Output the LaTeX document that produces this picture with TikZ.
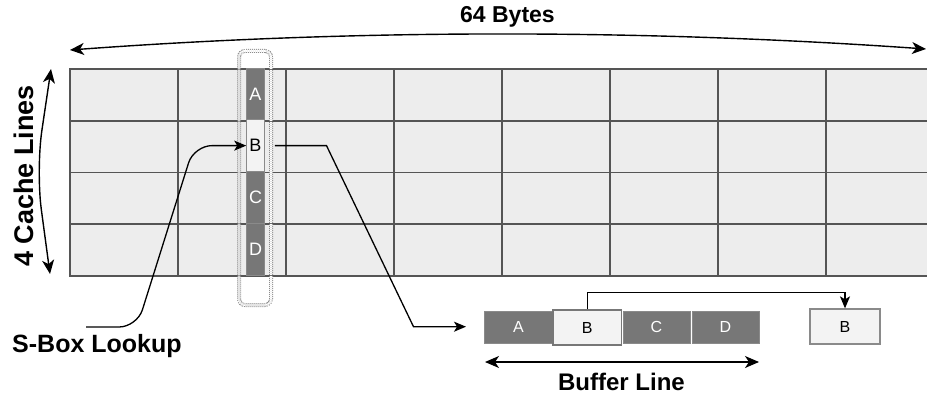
\documentclass[tikz,border=0pt]{standalone}
\usepackage{fontspec}
\setmainfont{Liberation Sans}
\usetikzlibrary{arrows.meta}
\definecolor{gridline}{HTML}{555555}
\definecolor{cellfill}{HTML}{EDEDED}
\definecolor{darkcell}{HTML}{777777}
\definecolor{lightcell}{HTML}{F3F3F3}
\definecolor{dotgray}{HTML}{8C8C8C}
\definecolor{boxedge}{HTML}{8A8A8A}
\begin{document}
\begin{tikzpicture}[x=1pt,y=-1pt,
  cell/.style={draw=gridline, fill=cellfill, line width=1.8pt, minimum width=108pt, minimum height=51.75pt, inner sep=0pt, anchor=north west},
  sdark/.style={fill=darkcell, draw=boxedge, line width=0.6pt, minimum width=18pt, minimum height=51.75pt, inner sep=0pt, text=white, font=\fontsize{18}{18}\selectfont},
  slight/.style={sdark, fill=lightcell, text=black},
  bdark/.style={fill=darkcell, draw=boxedge, line width=0.6pt, minimum height=32pt, inner sep=0pt, text=white, font=\fontsize{16}{16}\selectfont},
  blight/.style={bdark, fill=lightcell, draw=gridline!80, line width=1.3pt, text=black},
  biglabel/.style={font=\fontsize{#1}{#1}\selectfont\bfseries, inner sep=0pt},
  conn/.style={line width=1.3pt, -{Stealth[length=12pt,width=10pt,inset=3pt]}},
  dim/.style={line width=1.4pt, {Stealth[length=14pt,width=12pt,inset=4pt]}-{Stealth[length=14pt,width=12pt,inset=4pt]}}
]
\useasboundingbox (0,0) rectangle (927,396);
\clip (0,0) rectangle (927,396);
% grid
\foreach \c in {0,...,7}
  \foreach \r in {0,...,3}
    \node[cell] (g\c\r) at ({69+108*\c},{68+51.75*\r}) {};
% strip
\foreach \r/\l/\s in {0/A/sdark,1/B/slight,2/C/sdark,3/D/sdark}
  \node[\s] (s\l) at (255.5,{68+51.75*\r+25.875}) {\l};
% dotted selection
\node[draw=dotgray, line width=1pt, dash pattern=on 1pt off 1pt, double, double distance=2pt, rounded corners=6pt, minimum width=32pt, minimum height=254pt, inner sep=0pt] (sel) at (255,178) {};
% labels
\node[biglabel=23, anchor=base] (bytes) at (507.5,22.7) {64 Bytes};
\node[biglabel=27, anchor=base, rotate=90] (lines) at (33,176) {4 Cache Lines};
\node[biglabel=25, anchor=base west] (sbox) at (12,352) {S-Box Lookup};
\node[biglabel=24, anchor=base] (bufl) at (621.5,390) {Buffer Line};
% dimension arrows
\coordinate (tl) at (70,50);
\coordinate (tr) at (926,49);
\draw[dim] (tl) .. controls (355,29) and (640,29) .. (tr);
\coordinate (lt) at (51,69);
\coordinate (lm) at (36,170);
\coordinate (lb) at (50,274);
\draw[dim, rounded corners=40pt] (lt) -- (lm) -- (lb);
% buffer
\node[bdark, minimum width=68.5pt] (bufA) at (518.5,327) {A};
\node[bdark, minimum width=67pt] (bufC) at (656.5,327) {C};
\node[bdark, minimum width=67pt] (bufD) at (725.5,327) {D};
\node[blight, minimum width=68.7pt, minimum height=35pt] (bufB) at (587.3,327.5) {B};
\node[blight, minimum width=70pt, minimum height=35pt, draw=boxedge] (sepB) at (845,326.5) {B};
\coordinate (bl) at (485,362);
\coordinate (br) at (759,362);
\draw[dim] (bl) -- (br);
% connectors
\coordinate (lk0) at (86,327);
\draw[conn, rounded corners=18pt] (lk0) -- (137,327) -- (194,145.6) -- (sB.west);
\coordinate (c1) at (326.5,145.6);
\coordinate (c2) at (413.5,326.7);
\coordinate (c3) at (466,326.7);
\draw[conn, shorten <=10pt] (sB.east) -- (c1) -- (c2) -- (c3);
\draw[conn] (bufB.north) -- ++(0,-17) -| (sepB.north);
\end{tikzpicture}
\end{document}
